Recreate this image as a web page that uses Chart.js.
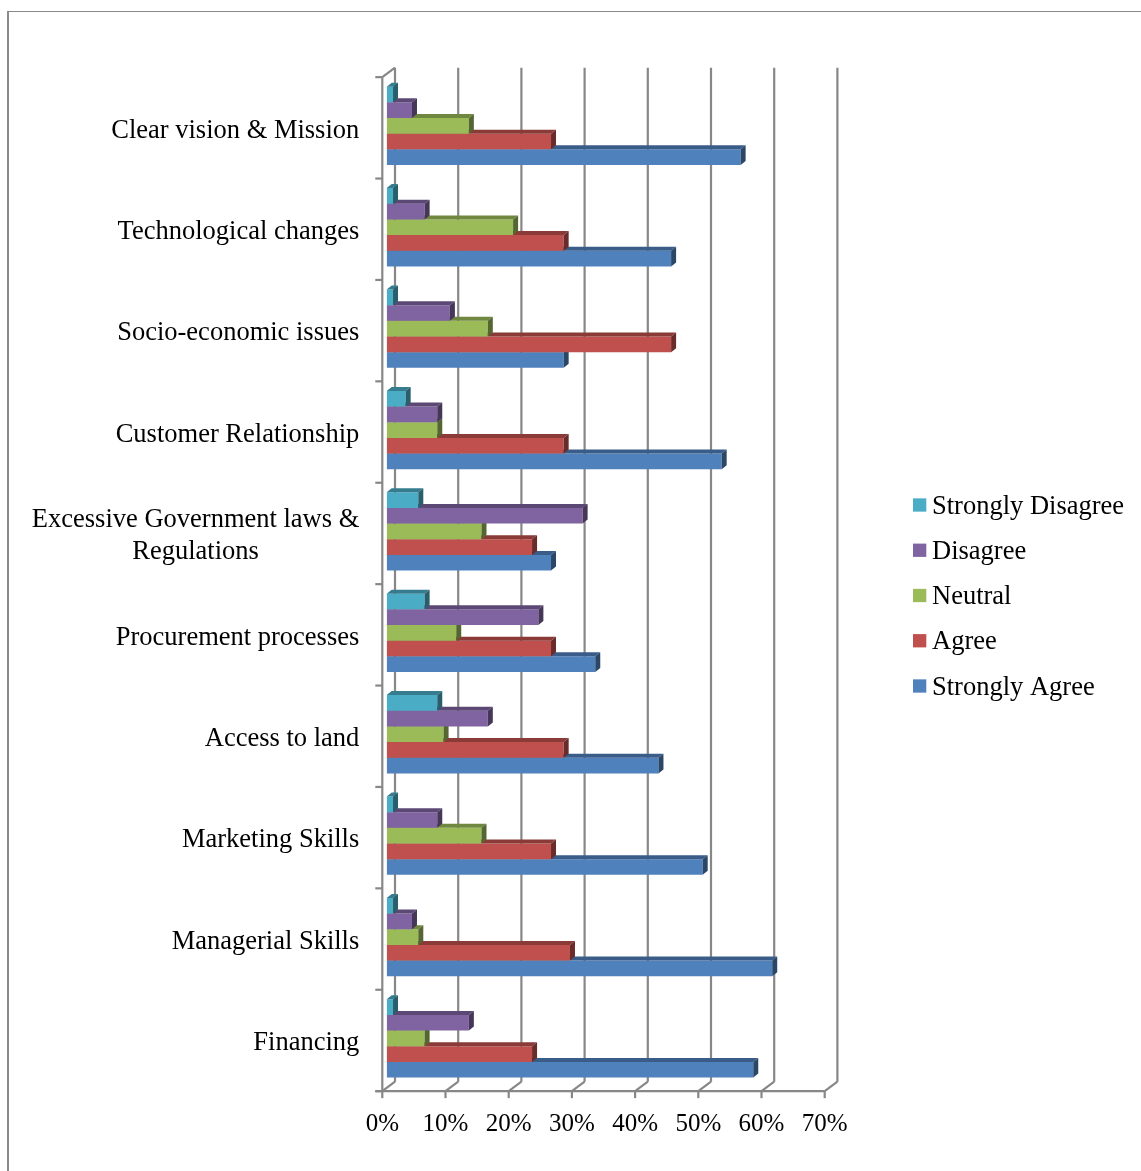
<!DOCTYPE html>
<html>
<head>
<meta charset="utf-8">
<script src="https://cdn.jsdelivr.net/npm/chart.js@4.4.1/dist/chart.umd.min.js"></script>
<style>
  html, body { margin: 0; padding: 0; background: #ffffff; }
  canvas { display: block; }
</style>
</head>
<body>
<canvas id="chart" width="1141" height="1171"></canvas>
<script>
// Factors, top to bottom
const categories = [
  'Clear vision & Mission',
  'Technological changes',
  'Socio-economic issues',
  'Customer Relationship',
  ['Excessive Government laws &', 'Regulations'],
  'Procurement processes',
  'Access to land',
  'Marketing Skills',
  'Managerial Skills',
  'Financing'
];

// Share of respondents (%) per answer
const stronglyDisagree = [1, 1, 1, 3, 5, 6, 8, 1, 1, 1];
const disagree         = [4, 6, 10, 8, 31, 24, 16, 8, 4, 13];
const neutral          = [13, 20, 16, 8, 15, 11, 9, 15, 5, 6];
const agree            = [26, 28, 45, 28, 23, 26, 28, 26, 29, 23];
const stronglyAgree    = [56, 45, 28, 53, 26, 33, 43, 50, 61, 58];

const seriesNames = ['Strongly Disagree', 'Disagree', 'Neutral', 'Agree', 'Strongly Agree'];
const xTickValues = [0, 10, 20, 30, 40, 50, 60, 70];

const seriesColors = ['#4BACC6', '#8064A2', '#9BBB59', '#C0504D', '#4F81BD'];

// Pseudo-3D geometry (pixel offsets relative to the bar plane)
const FRONT = { dx: -4.4, dy: 2 };
const BACK  = { dx: 8.3,  dy: -7.5 };
const DEPTH = { dx: 5,    dy: 4 };
const GRID_COLOR = '#878787';
const SERIF = '"Liberation Serif", "Times New Roman", serif';

function shade(hex, f) {
  const n = parseInt(hex.slice(1), 16);
  const r = Math.round(((n >> 16) & 255) * f);
  const g = Math.round(((n >> 8) & 255) * f);
  const b = Math.round((n & 255) * f);
  return `rgb(${r},${g},${b})`;
}

function line(ctx, x1, y1, x2, y2) {
  ctx.beginPath();
  ctx.moveTo(x1, y1);
  ctx.lineTo(x2, y2);
  ctx.stroke();
}

// Outer frame of the figure
const framePlugin = {
  id: 'frame',
  beforeDraw(chart) {
    const ctx = chart.ctx;
    ctx.save();
    ctx.fillStyle = '#ffffff';
    ctx.fillRect(0, 0, chart.width, chart.height);
    ctx.fillStyle = '#8a8a8a';
    ctx.fillRect(7, 11, 2, chart.height - 11);
    ctx.fillRect(7, 11, chart.width - 7, 1);
    ctx.restore();
  }
};

// Back wall, floor edges and axis ticks of the 3D box
const wallsPlugin = {
  id: 'walls',
  beforeDatasetsDraw(chart) {
    const { ctx, chartArea: a, scales: { x, y } } = chart;
    ctx.save();
    ctx.strokeStyle = GRID_COLOR;
    ctx.lineWidth = 2.2;
    const frontBottom = a.bottom + FRONT.dy;
    const frontTop = a.top + FRONT.dy;
    xTickValues.forEach(v => {
      const px = x.getPixelForValue(v);
      const bx = px + BACK.dx;
      const fx = px + FRONT.dx;
      line(ctx, bx, a.top + BACK.dy, bx, a.bottom + BACK.dy);
      line(ctx, bx, a.bottom + BACK.dy, fx, frontBottom);
      line(ctx, fx, frontBottom, fx, frontBottom + 7);
    });
    const fx0 = x.getPixelForValue(0) + FRONT.dx;
    const fxMax = x.getPixelForValue(xTickValues[xTickValues.length - 1]) + FRONT.dx;
    line(ctx, fx0 - 7, frontBottom, fxMax, frontBottom);
    line(ctx, fx0, frontTop, fx0, frontBottom);
    line(ctx, fx0, frontTop, x.getPixelForValue(0) + BACK.dx, a.top + BACK.dy);
    // category boundary ticks on the left edge
    const n = categories.length;
    for (let i = 0; i <= n; i++) {
      let yb;
      if (i === 0) yb = a.top;
      else if (i === n) yb = a.bottom;
      else yb = (y.getPixelForTick(i - 1) + y.getPixelForTick(i)) / 2;
      line(ctx, fx0 - 7, yb + FRONT.dy, fx0, yb + FRONT.dy);
    }
    ctx.restore();
  }
};

// Top and side faces of each bar, drawn right after its own dataset
const depthPlugin = {
  id: 'barDepth',
  afterDatasetDraw(chart, args) {
    const ctx = chart.ctx;
    const meta = args.meta;
    const base = seriesColors[args.index];
    const topCol = shade(base, 0.72);
    const sideCol = shade(base, 0.55);
    ctx.save();
    meta.data.forEach(bar => {
      const p = bar.getProps(['x', 'y', 'base', 'height'], true);
      const left = Math.min(p.base, p.x);
      const right = Math.max(p.base, p.x);
      const top = p.y - p.height / 2;
      const bottom = p.y + p.height / 2;
      ctx.fillStyle = topCol;
      ctx.beginPath();
      ctx.moveTo(left, top);
      ctx.lineTo(left + DEPTH.dx, top - DEPTH.dy);
      ctx.lineTo(right + DEPTH.dx, top - DEPTH.dy);
      ctx.lineTo(right, top);
      ctx.closePath();
      ctx.fill();
      ctx.fillStyle = sideCol;
      ctx.beginPath();
      ctx.moveTo(right, top);
      ctx.lineTo(right + DEPTH.dx, top - DEPTH.dy);
      ctx.lineTo(right + DEPTH.dx, bottom - DEPTH.dy);
      ctx.lineTo(right, bottom);
      ctx.closePath();
      ctx.fill();
    });
    ctx.restore();
  }
};

// Category names, right-aligned, multi-line names centred on each other
const categoryLabelPlugin = {
  id: 'categoryLabels',
  afterDraw(chart) {
    const { ctx, scales: { x, y } } = chart;
    const right = x.getPixelForValue(0) + FRONT.dx - 23;
    const lineHeight = 32;
    ctx.save();
    ctx.font = `26.5px ${SERIF}`;
    ctx.fillStyle = '#000000';
    ctx.textBaseline = 'alphabetic';
    ctx.textAlign = 'center';
    categories.forEach((label, i) => {
      const lines = Array.isArray(label) ? label : [label];
      const maxW = Math.max(...lines.map(t => ctx.measureText(t).width));
      const cy = y.getPixelForTick(i) + FRONT.dy;
      lines.forEach((t, j) => {
        const by = cy + (j - (lines.length - 1) / 2) * lineHeight + 9.8;
        ctx.fillText(t, right - maxW / 2, by);
      });
    });
    ctx.restore();
  }
};

// Legend to the right of the plot
const sideLegendPlugin = {
  id: 'sideLegend',
  afterDraw(chart) {
    const ctx = chart.ctx;
    const boxX = 913, box = 13.3, textX = 932, firstY = 505, step = 45.25;
    ctx.save();
    ctx.font = `26.5px ${SERIF}`;
    ctx.textAlign = 'left';
    ctx.textBaseline = 'alphabetic';
    chart.data.datasets.forEach((ds, i) => {
      const cy = firstY + i * step;
      ctx.fillStyle = ds.backgroundColor;
      ctx.fillRect(boxX, cy - box / 2, box, box);
      ctx.fillStyle = '#000000';
      ctx.fillText(ds.label, textX, cy + 8.7);
    });
    ctx.restore();
  }
};

const seriesValues = [stronglyDisagree, disagree, neutral, agree, stronglyAgree];

new Chart(document.getElementById('chart'), {
  type: 'bar',
  data: {
    labels: categories,
    datasets: seriesNames.map((name, i) => ({
      label: name,
      data: seriesValues[i],
      backgroundColor: seriesColors[i],
      borderWidth: 0,
      categoryPercentage: 0.772,
      barPercentage: 1.0
    }))
  },
  options: {
    indexAxis: 'y',
    responsive: false,
    animation: false,
    events: [],
    layout: {
      padding: { left: 386.7, top: 75.15, right: 311.9, bottom: 31.85 }
    },
    plugins: {
      legend: { display: false },
      tooltip: { enabled: false }
    },
    scales: {
      x: {
        min: 0,
        max: 70,
        grid: { display: false, drawTicks: false },
        border: { display: false },
        ticks: {
          stepSize: 10,
          padding: 20,
          labelOffset: FRONT.dx,
          color: '#000000',
          font: { family: SERIF, size: 25 },
          maxRotation: 0,
          callback: v => v + '%'
        },
        afterFit(scale) { scale.height = 50; }
      },
      y: {
        grid: { display: false, drawTicks: false },
        border: { display: false },
        ticks: { display: false },
        afterFit(scale) { scale.width = 0; }
      }
    }
  },
  plugins: [framePlugin, wallsPlugin, depthPlugin, categoryLabelPlugin, sideLegendPlugin]
});
</script>
</body>
</html>
